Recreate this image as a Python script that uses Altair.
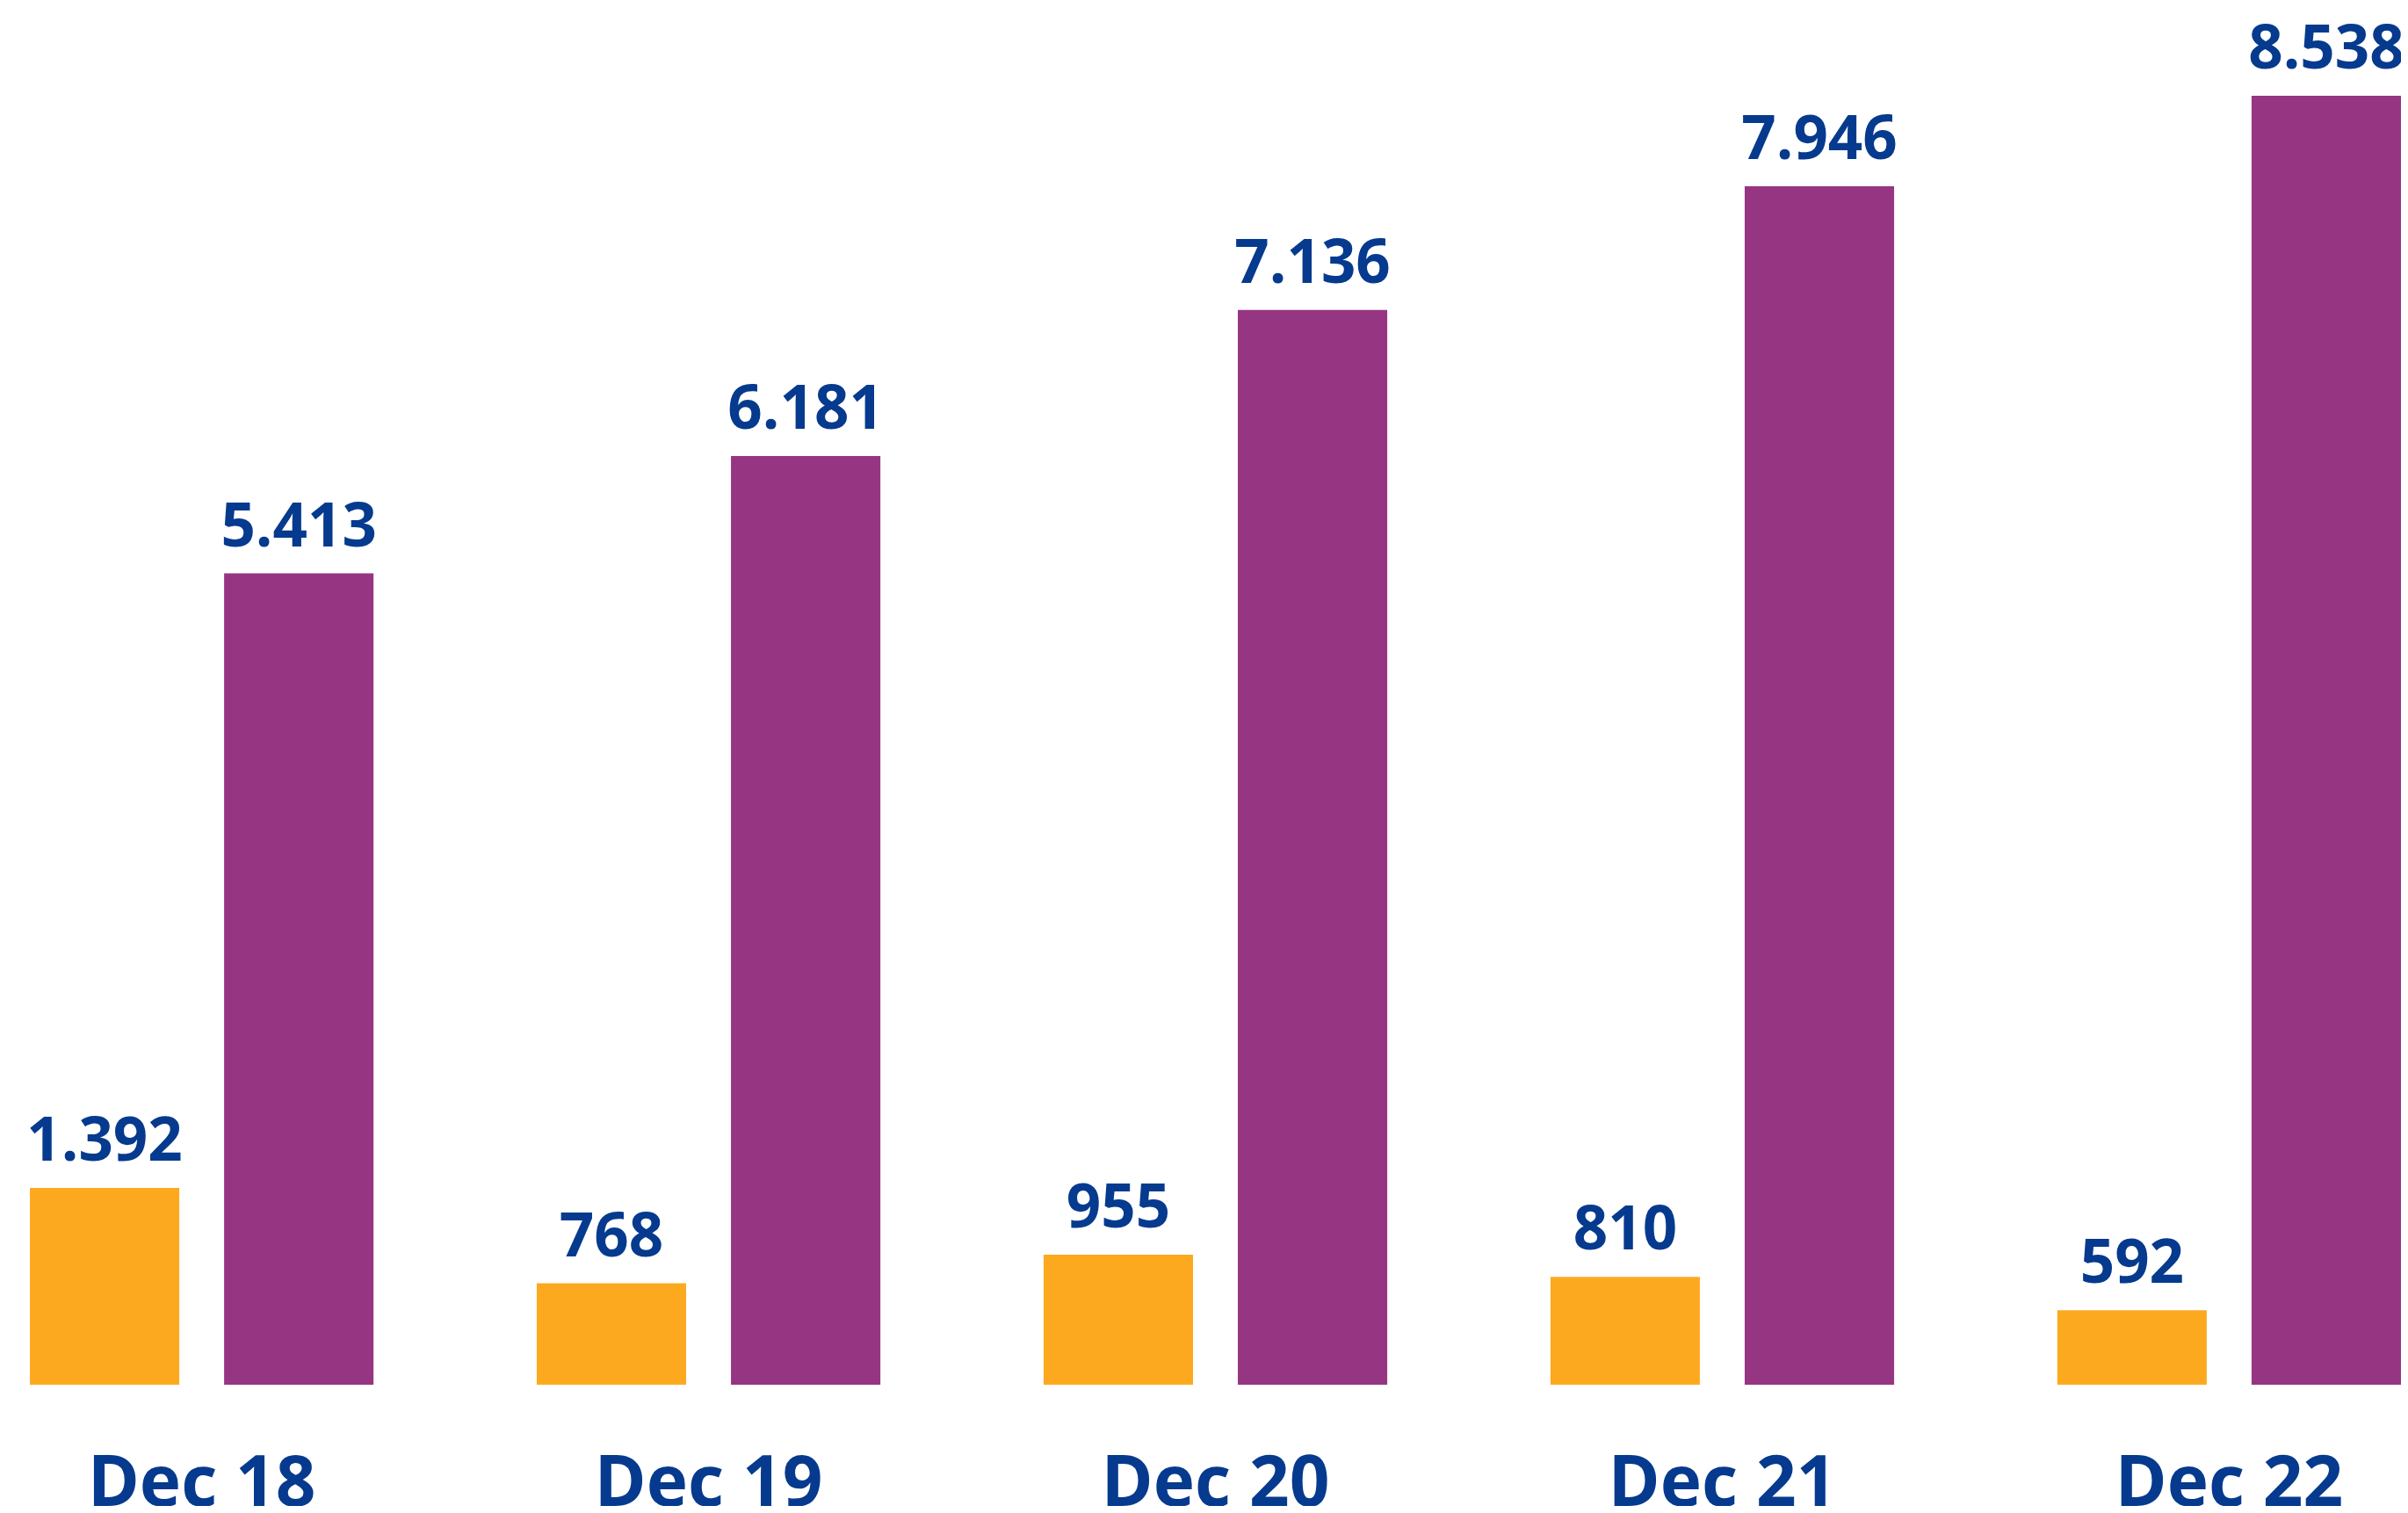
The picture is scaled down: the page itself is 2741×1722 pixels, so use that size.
import altair as alt
import pandas as pd

categories = ["Dec 18", "Dec 19", "Dec 20", "Dec 21", "Dec 22"]
series_names = ["Serie 1", "Serie 2"]
series_1 = [1392, 768, 955, 810, 592]
series_2 = [5413, 6181, 7136, 7946, 8538]
colors = ["#FDA920", "#963682"]
text_color = "#063A8E"

rows = []
for c, a, b in zip(categories, series_1, series_2):
    rows.append({"date": c, "series": series_names[0], "value": a})
    rows.append({"date": c, "series": series_names[1], "value": b})
df = pd.DataFrame(rows)

FONT = "Open Sans"

base = alt.Chart(df).transform_calculate(
    label="replace(format(datum.value, ',d'), ',', '.')"
).encode(
    x=alt.X(
        "date:N",
        sort=categories,
        title=None,
        scale=alt.Scale(paddingInner=0.322, paddingOuter=0),
        axis=alt.Axis(
            domain=False,
            ticks=False,
            tickSize=0,
            grid=False,
            labelAngle=0,
            labelFont=FONT,
            labelFontSize=80,
            labelFontWeight="bold",
            labelColor=text_color,
            labelBaseline="alphabetic",
            labelPadding=137,
            labelLimit=0,
        ),
    ),
    xOffset=alt.XOffset(
        "series:N",
        sort=series_names,
        scale=alt.Scale(paddingInner=0.2308, paddingOuter=0),
    ),
    y=alt.Y(
        "value:Q",
        title=None,
        scale=alt.Scale(domain=[104.2, 9118.6], zero=False, nice=False),
        axis=None,
    ),
)

bars = base.mark_bar(clip=True).encode(
    color=alt.Color(
        "series:N",
        sort=series_names,
        scale=alt.Scale(domain=series_names, range=colors),
        legend=None,
    )
)

labels = base.mark_text(
    baseline="alphabetic",
    align="center",
    dy=-31,
    font=FONT,
    fontSize=69,
    fontWeight="bold",
    color=text_color,
).encode(text="label:N")

chart = (
    alt.layer(bars, labels)
    .properties(
        width=2699,
        height=1568,
        autosize=alt.AutoSizeParams(type="none"),
        padding={"left": 26, "top": 0, "right": 0, "bottom": 138},
    )
    .configure_view(stroke=None)
)

chart.save("out.html", embed_options={"renderer": "svg", "actions": False})
